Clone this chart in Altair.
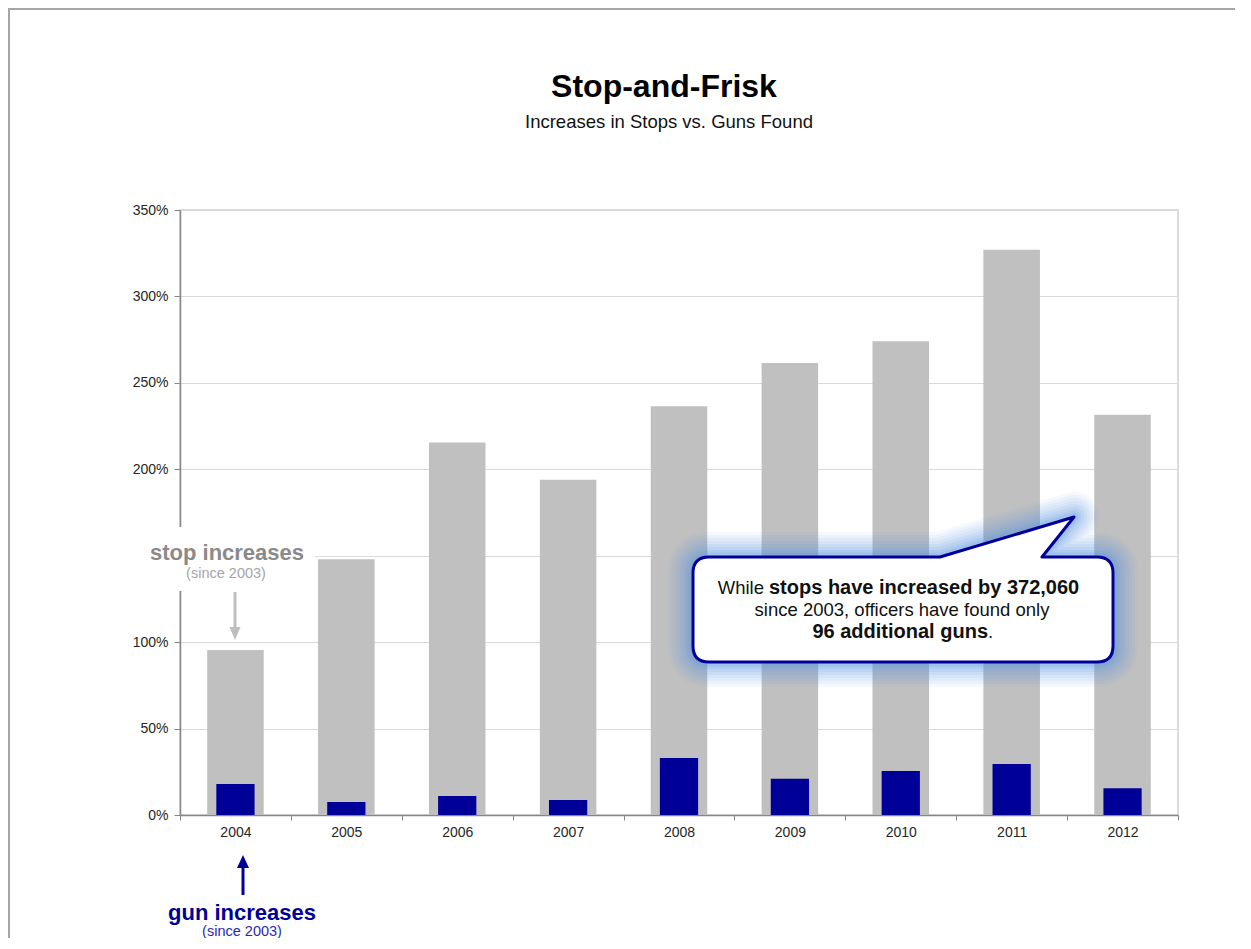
import altair as alt
import pandas as pd

# ---- data ----
years = ["2004", "2005", "2006", "2007", "2008", "2009", "2010", "2011", "2012"]
stop_increase = [95.5, 148, 215.5, 194, 236.5, 261.5, 274, 327, 231.5]
gun_increase = [18, 7.5, 11, 8.7, 33, 21, 25.5, 29.5, 15.5]
y_ticks = [0, 50, 100, 150, 200, 250, 300, 350]

df = pd.DataFrame({"year": years, "stops": stop_increase, "guns": gun_increase})

FONT = "Liberation Sans"
W, H = 998, 605
OX, OY = 180, 210  # page position of plot origin

GRAY_BAR = "#c0c0c0"
NAVY = "#000099"


def one():
    return alt.Data(values=[{"a": 1}])


def txt(text, px, py, size, color="#000000", weight="normal", align="center"):
    return alt.Chart(one()).mark_text(
        text=text, fontSize=size, fontWeight=weight, color=color, align=align,
        baseline="alphabetic", font=FONT
    ).encode(x=alt.value(px - OX), y=alt.value(py - OY))


def shape(path, px, py, fill=None, stroke=None, sw=0, opacity=1.0):
    kw = dict(shape=path, size=4, opacity=opacity, strokeJoin="round")
    if fill is not None:
        kw.update(filled=True, fill=fill)
    else:
        kw.update(filled=False, fill="transparent")
    if stroke is not None:
        kw.update(stroke=stroke, strokeWidth=sw)
    else:
        kw.update(strokeWidth=0)
    return alt.Chart(one()).mark_point(**kw).encode(
        x=alt.value(px - OX), y=alt.value(py - OY))


def rule(px1, py1, px2, py2, color, sw):
    return alt.Chart(one()).mark_rule(color=color, strokeWidth=sw).encode(
        x=alt.value(px1 - OX), x2=alt.value(px2 - OX),
        y=alt.value(py1 - OY), y2=alt.value(py2 - OY))


x_axis = alt.Axis(labelAngle=0, tickBand="extent", domainColor="#868686", domainWidth=1.5,
                  tickColor="#868686", tickSize=5, labelPadding=5, labelFontSize=14,
                  labelColor="#262626", labelFont=FONT, grid=False)
y_axis = alt.Axis(values=y_ticks,
                  labelExpr="datum.value == 150 ? '' : datum.value + '%'",
                  domainColor="#868686", domainWidth=1.5, tickColor="#868686", tickSize=6,
                  labelPadding=6, labelFontSize=14, labelColor="#262626", labelFont=FONT,
                  gridColor="#d9d9d9", gridWidth=1)
x_enc = alt.X("year:O", title=None, scale=alt.Scale(paddingInner=0, paddingOuter=0), axis=x_axis)
y_scale = alt.Scale(domain=[0, 350], nice=False, zero=True)

stop_bars = alt.Chart(df).mark_bar(color=GRAY_BAR, width=alt.RelativeBandSize(0.51)).encode(
    x=x_enc, y=alt.Y("stops:Q", scale=y_scale, title=None, axis=y_axis))
gun_bars = alt.Chart(df).mark_bar(color=NAVY, width=alt.RelativeBandSize(0.345)).encode(
    x=x_enc, y=alt.Y("guns:Q", scale=y_scale, title=None, axis=y_axis))

# white patch hiding the left axis behind the "stop increases" label
cover = alt.Chart(one()).mark_rect(color="white").encode(
    x=alt.value(110 - OX), x2=alt.value(315 - OX), y=alt.value(527 - OY), y2=alt.value(591 - OY))

# callout bubble (pixel path around its centre at page (903, 610))
CALLOUT = ("M -194 -53 L 37 -53 L 171 -93 L 139 -53 L 194 -53 Q 210 -53 210 -37 "
           "L 210 36 Q 210 52 194 52 L -194 52 Q -210 52 -210 36 L -210 -37 Q -210 -53 -194 -53 Z")
CX, CY = 903, 610
glow = [shape(CALLOUT, CX, CY, stroke="#5a96e3", sw=w, opacity=o)
        for w, o in [(50, 0.05), (44, 0.06), (38, 0.07), (32, 0.08), (26, 0.09),
                     (20, 0.11), (14, 0.13), (9, 0.16)]]
bubble = shape(CALLOUT, CX, CY, fill="white", stroke=NAVY, sw=3)

layers = [stop_bars, gun_bars, cover] + glow + [bubble]

layers += [
    # titles
    txt("Stop-and-Frisk", 664, 97, 32, weight="bold"),
    txt("Increases in Stops vs. Guns Found", 669, 128, 18.5, color="#111111"),
    # stop annotation
    txt("stop increases", 227, 560, 22, color="#8a8a8a", weight="bold"),
    txt("(since 2003)", 226, 578, 14.5, color="#a6a6a6"),
    rule(235, 592, 235, 629, "#bfbfbf", 3),
    shape("M -5.5 -13 L 5.5 -13 L 0 0 Z", 235, 640, fill="#bfbfbf"),
    # gun annotation
    rule(243, 868, 243, 895, NAVY, 3),
    shape("M -6 13 L 6 13 L 0 0 Z", 243, 855, fill=NAVY),
    txt("gun increases", 242, 920, 22, color=NAVY, weight="bold"),
    txt("(since 2003)", 242, 936, 14.5, color="#2a2ab0"),
    # callout text
    txt("While", 764, 594, 18.5, color="#111111", align="right"),
    txt("stops have increased by 372,060", 769, 594, 20, color="#111111", weight="bold", align="left"),
    txt("since 2003, officers have found only", 902, 616, 18.5, color="#111111"),
    txt("96 additional guns", 988, 638, 20, color="#111111", weight="bold", align="right"),
    txt(".", 988, 638, 18.5, color="#111111", align="left"),
    # outer frame (left and top edges)
    rule(9, 9, 9, 949, "#a6a6a6", 2),
    rule(8, 9, 1251, 9, "#a6a6a6", 2),
]

chart = alt.layer(*layers).properties(
    width=W, height=H,
    autosize=alt.AutoSizeParams(type="none"),
    padding={"left": OX - 8, "top": OY - 8, "right": 57, "bottom": 123},
).configure_view(stroke="#d0d0d0", strokeWidth=1.5)

chart.save("out.html", embed_options={"renderer": "svg", "actions": False})
